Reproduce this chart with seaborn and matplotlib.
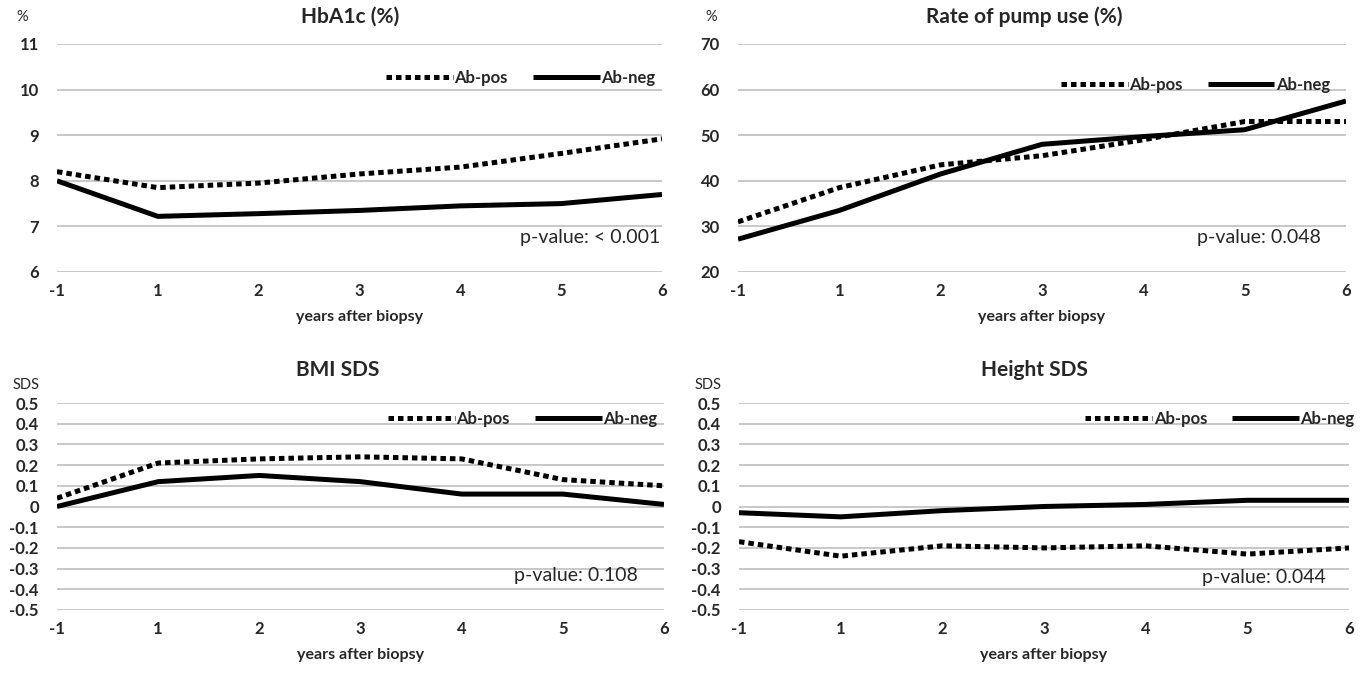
import numpy as np
import pandas as pd
import matplotlib
matplotlib.use("Agg")
import matplotlib.pyplot as plt
import seaborn as sns

years = ["-1", "1", "2", "3", "4", "5", "6"]
groups = ["Ab-pos", "Ab-neg"]

hba1c_pos = [8.2, 7.85, 7.95, 8.15, 8.3, 8.6, 8.92]
hba1c_neg = [8.0, 7.22, 7.28, 7.35, 7.45, 7.5, 7.7]
pump_pos = [31.0, 38.5, 43.5, 45.5, 49.0, 53.0, 53.0]
pump_neg = [27.2, 33.5, 41.5, 48.0, 49.7, 51.2, 57.5]
bmi_pos = [0.04, 0.21, 0.23, 0.24, 0.23, 0.13, 0.10]
bmi_neg = [0.0, 0.12, 0.15, 0.12, 0.06, 0.06, 0.01]
height_pos = [-0.17, -0.24, -0.19, -0.20, -0.19, -0.23, -0.20]
height_neg = [-0.03, -0.05, -0.02, 0.0, 0.01, 0.03, 0.03]

titles = ["HbA1c (%)", "Rate of pump use (%)", "BMI SDS", "Height SDS"]
units = ["%", "%", "SDS", "SDS"]
p_values = ["p-value: < 0.001", "p-value: 0.048", "p-value: 0.108", "p-value: 0.044"]
y_ticks = [
    [6, 7, 8, 9, 10, 11],
    [20, 30, 40, 50, 60, 70],
    [-0.5, -0.4, -0.3, -0.2, -0.1, 0, 0.1, 0.2, 0.3, 0.4, 0.5],
    [-0.5, -0.4, -0.3, -0.2, -0.1, 0, 0.1, 0.2, 0.3, 0.4, 0.5],
]
series = [(hba1c_pos, hba1c_neg), (pump_pos, pump_neg),
          (bmi_pos, bmi_neg), (height_pos, height_neg)]

sns.set_theme(style="white")
plt.rcParams["font.family"] = ["Lato", "DejaVu Sans"]

W, H = 1360, 678
fig = plt.figure(figsize=(W / 100, H / 100), dpi=100)

# axes boxes in pixels: left, right, top, bottom
boxes = [(57, 662, 44, 272), (738, 1346, 44, 272),
         (57, 664, 403, 610), (739, 1349, 403, 610)]
title_xy = [(350, 17), (1024, 17), (338, 370), (1034, 370)]
unit_pos = [(22, 17), (711, 17), (26, 385), (708, 385)]
p_pos = [(660, 237), (1321, 237), (638, 575), (1326, 578)]
legend_anchor = [(1.0, 0.915), (0.985, 0.885), (1.0, 0.995), (1.02, 0.995)]


def fmt(v):
    if abs(v) < 1e-9:
        return "0"
    return f"{v:g}"


for i, (l, r, t, b) in enumerate(boxes):
    ax = fig.add_axes([l / W, 1 - b / H, (r - l) / W, (b - t) / H])
    pos, neg = series[i]
    x = np.arange(len(years))
    df = pd.DataFrame({
        "x": np.concatenate([x, x]),
        "value": pos + neg,
        "group": [groups[0]] * len(years) + [groups[1]] * len(years),
    })
    sns.lineplot(data=df, x="x", y="value", hue="group", style="group",
                 hue_order=groups, style_order=groups,
                 palette={"Ab-pos": "black", "Ab-neg": "black"},
                 dashes={"Ab-pos": (1.1, 0.8), "Ab-neg": ""},
                 linewidth=3.6, ax=ax)
    for line in ax.get_lines():
        line.set_dash_capstyle("butt")
        line.set_solid_capstyle("butt")

    ax.set_xlim(0, len(years) - 1)
    ax.set_xticks(x)
    ax.set_xticklabels(years, fontweight="bold", fontsize=12)
    ax.set_ylim(y_ticks[i][0], y_ticks[i][-1])
    ax.set_yticks(y_ticks[i])
    ax.set_yticklabels([fmt(v) for v in y_ticks[i]], fontweight="bold",
                       fontsize=12)
    ax.tick_params(axis="x", length=0, pad=8)
    ax.tick_params(axis="y", length=0, pad=13)
    ax.grid(axis="y", color="#c8c8c8", linewidth=1.4)
    ax.set_axisbelow(True)
    for sp in ax.spines.values():
        sp.set_visible(False)
    ax.set_xlabel("years after biopsy", fontweight="bold", fontsize=11.5,
                  labelpad=8)
    ax.set_ylabel("")

    handles, labels = ax.get_legend_handles_labels()
    ax.legend(handles, labels, ncol=2, frameon=False, loc="upper right",
              bbox_to_anchor=legend_anchor[i],
              prop={"size": 12, "weight": "bold"},
              handlelength=4.0, handletextpad=0.1, columnspacing=1.5,
              borderaxespad=0)

    fig.text(title_xy[i][0] / W, 1 - title_xy[i][1] / H, titles[i],
             ha="center", va="center", fontweight="bold", fontsize=15)
    fig.text(unit_pos[i][0] / W, 1 - unit_pos[i][1] / H, units[i],
             ha="center", va="center", fontsize=10.5)
    fig.text(p_pos[i][0] / W, 1 - p_pos[i][1] / H, p_values[i],
             ha="right", va="center", fontsize=14)

fig.savefig("out.png", dpi=100)
